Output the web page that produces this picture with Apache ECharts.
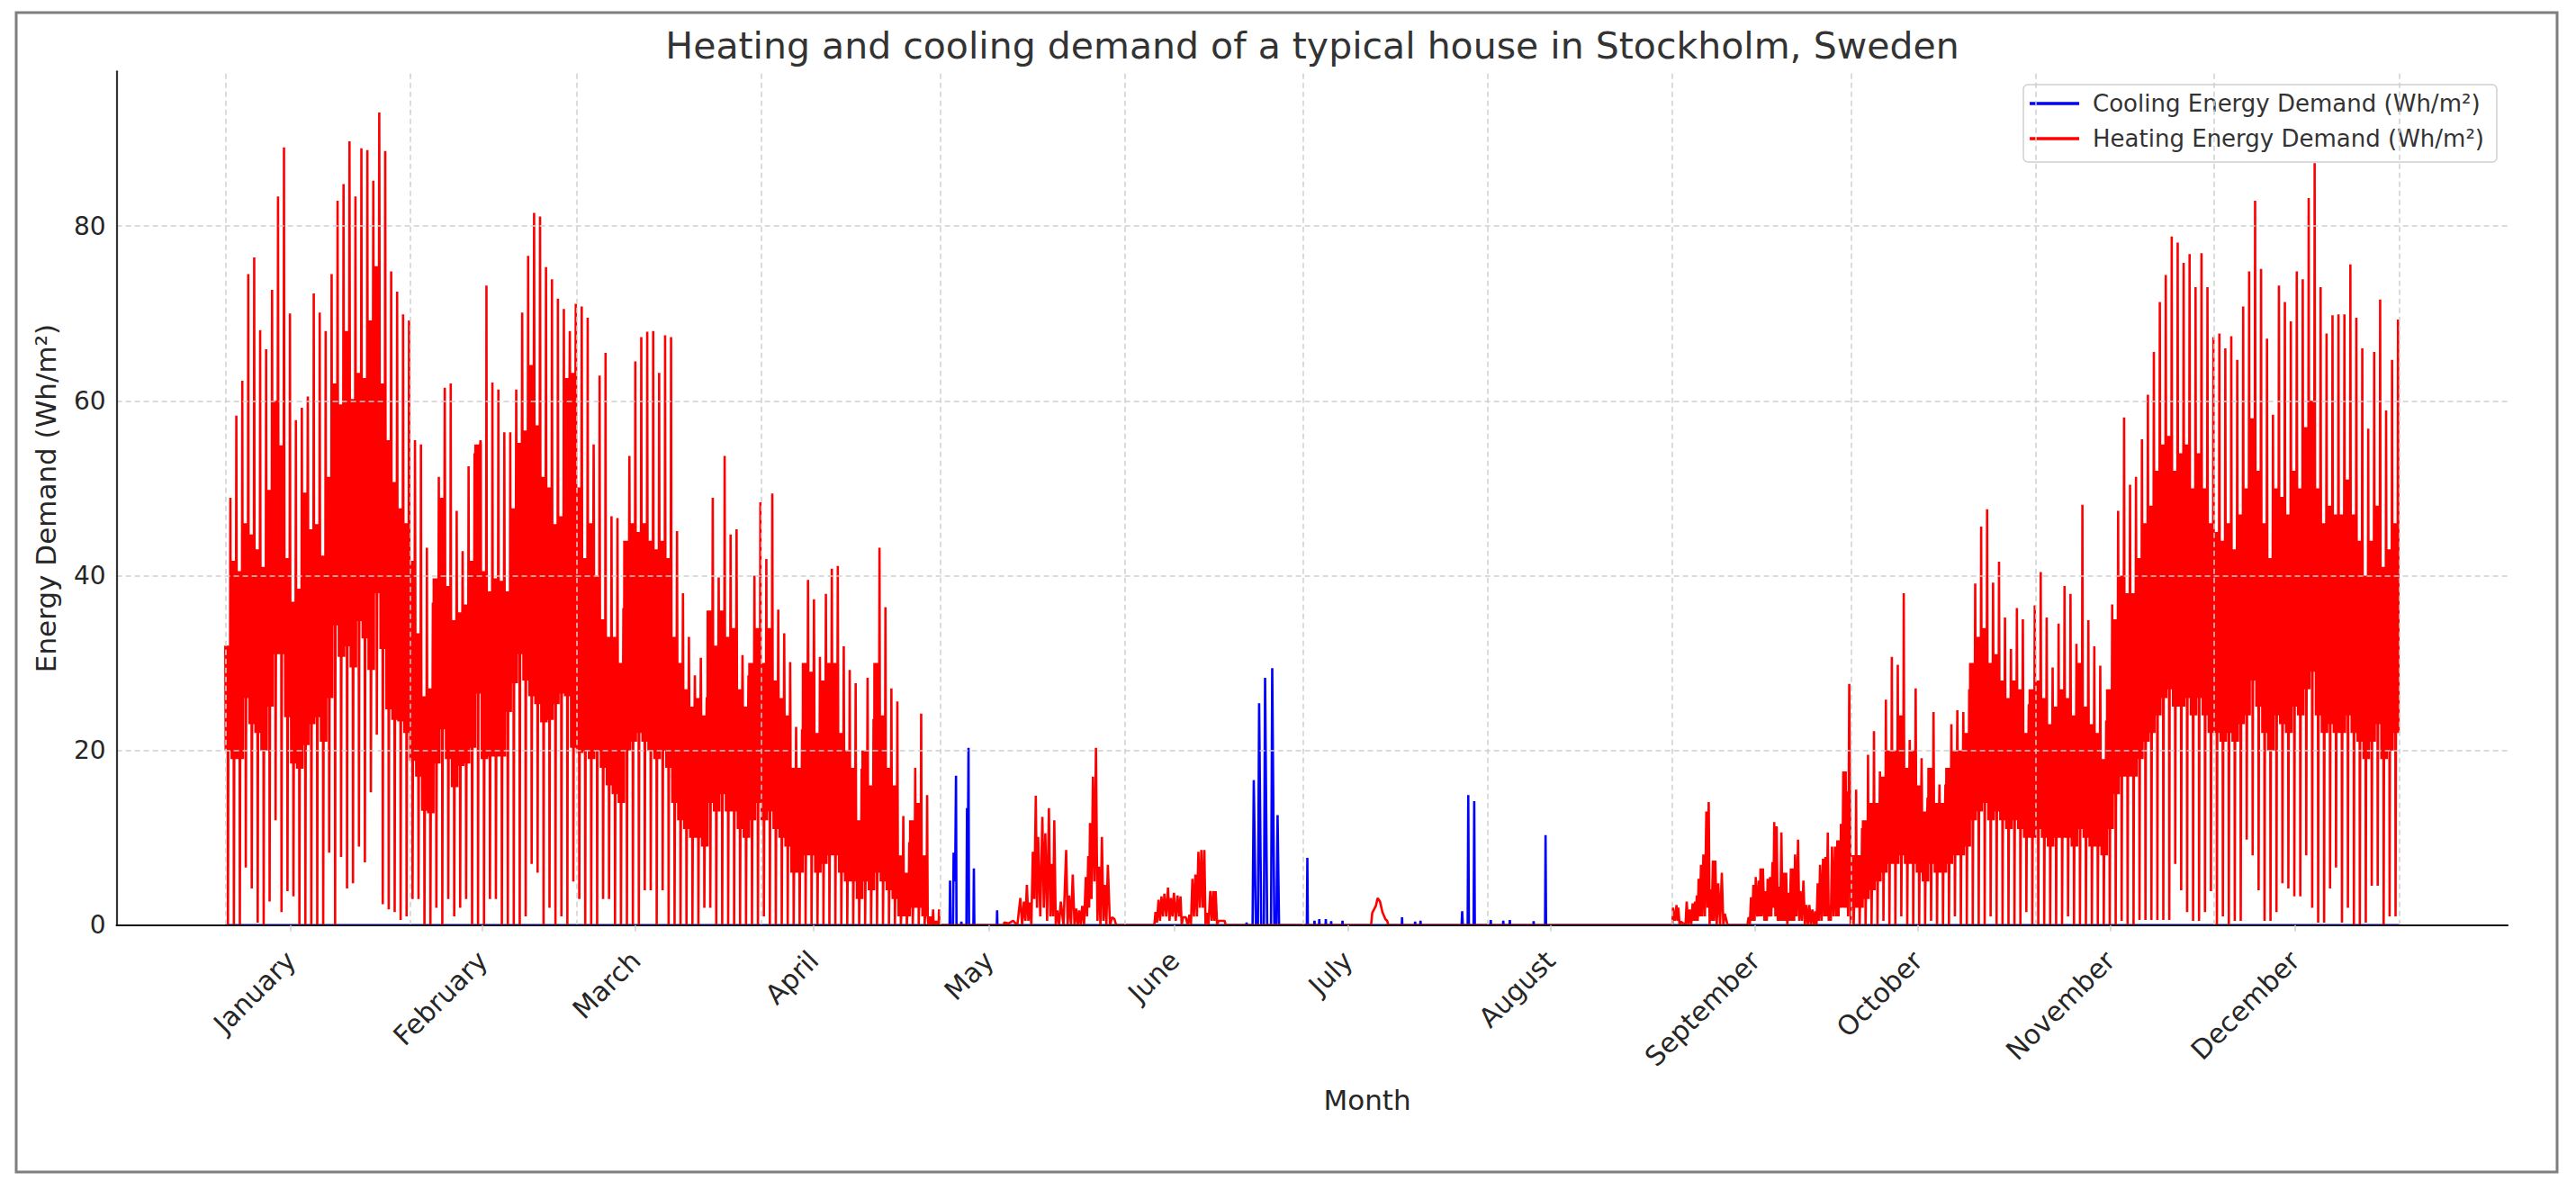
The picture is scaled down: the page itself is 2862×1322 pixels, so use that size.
<!DOCTYPE html>
<html><head><meta charset="utf-8">
<script src="https://cdn.jsdelivr.net/npm/echarts@6/dist/echarts.min.js"></script>
<style>html,body{margin:0;padding:0;background:#fff}#c{width:2862px;height:1322px}</style>
</head><body><div id="c"></div>
<script>
// ---------- labels / ticks ----------
const months = ['January','February','March','April','May','June','July','August','September','October','November','December'];
const monthTickDays = [11.0, 43.2, 68.9, 98.8, 128.2, 159.4, 188.5, 222.5, 256.9, 284.2, 316.5, 347.5];
const monthStartDays = [0, 31, 59, 90, 120, 151, 181, 212, 243, 273, 304, 334, 365];
const yTicks = [0, 20, 40, 60, 80];

// ---------- heating, Jan 1 .. Apr 30 (day 0..119) ----------
// daily spike top
const heatPeakSpring = [
 48.9,58.3,62.3,74.5,76.4,68.1,65.9,72.7,83.4,89.0,70.0,57.8,59.2,60.5,72.3,70.1,68.0,74.5,82.9,84.8,89.7,83.4,88.9,88.7,85.2,93.0,88.6,74.8,72.5,69.9,69.2,55.5,
 55.0,43.2,36.9,51.3,61.5,62.0,47.4,42.8,52.5,54.0,55.5,73.2,62.1,61.3,56.4,56.4,61.3,70.1,76.6,81.5,81.1,75.3,73.9,71.7,70.5,68.0,71.1,70.8,69.5,55.0,62.9,
 65.5,46.8,46.6,36.3,53.7,64.5,67.3,67.9,68.0,63.2,67.5,67.3,45.1,38.0,33.0,28.6,30.6,26.1,48.9,39.8,53.7,44.7,45.3,30.9,28.6,40.0,48.4,41.9,49.4,36.1,33.4,30.1,
 22.7,22.4,39.5,37.3,30.7,37.9,40.8,41.1,31.9,29.2,27.7,17.9,28.3,23.6,43.2,36.4,27.1,25.6,12.5,9.5,18.0,24.2,14.9,1.8,1.8
];
// daily top of the dense band
const heatTopSpring = [
 32,41.7,40.5,46,44.7,43,41,49.8,60,54.9,42,37,38.5,49.5,45.3,45.9,42.3,51.3,62,59.6,68,60.2,63.2,62.6,69.2,75.4,62,55.5,50.7,47.7,46,
 41.7,33.4,26.2,27.1,39.7,48.9,38.8,34.9,35.8,36.7,41.7,55,40.5,38.2,39.7,39.4,38.2,47.7,55.2,56.6,64.1,57.2,51.3,50.1,45.9,46.8,62.6,63.2,50.1,42,46,
 40,35,33,33,30,44,46,45,46,44,43,44,42,33,30,27,25,26,24,36,32,36,33,34,27,25,30,34,30,34,28,26,24,
 18,18,30,29,22,28,30,30,22,20,18,12,20,16,30,24,18,16,8,6,12,14,8,1,0.5
];
// daily bottom of the dense band
const heatBotSpring = [
 20,19,19,26,23,22,20,25,31,31,23.8,18.5,17.9,20.6,23,23.8,21,26,34.3,30.7,31.9,29.5,34.8,32.8,29.2,38,31.6,24.7,23.5,23.3,22,
 18.8,17,13.1,12.8,18.5,22.4,19,15.8,18.2,18.5,20.3,26.5,19,19.3,19.3,19.3,24.4,27.7,31,28,26.2,25.3,23.2,23.5,25.3,26.5,26.2,20.3,19.7,20,19,
 20,18,16,15,14,20,21,22,21,20,19,20,18,14,12,11,10,10,9,14,13,15,13,13,11,10,12,14,12,13,11,10,9,
 6,6,8,8,6,7,8,8,6,5,5,3,5,4,6,5,4,3,1,1,2,2,1,0,0
];
// daily trough
const heatMinSpring = [
 0,0,0,6.6,4.2,0.3,0,2.7,12,1.5,3.9,3.3,0,0,0,0,0,8.3,0,7.8,4.2,4.8,9,7.2,15.2,21.8,2.4,1.8,1.5,0.6,1,3,
 3,0,0,2,0,3,1,2,3,0,0,0,3,3,0,0,0,0,1,7,6,0,2,0,1,0,5,3,0,0,0,
 3,3,0,0,0,0,0,4,4,0,4,0,0,0,0,0,0,2,2,0,0,0,0,0,0,0,0,1,0,0,0,0,
 0,0,0,0,0,0,0,0,0,0,0,0,0,0,0,0,0,0,0,0,0,0,0,0,0
];
// ---------- heating, Oct 1 .. Dec 31 (day 273..364) ----------
const heatPeakAutumn = [
 15.5,11.1,19.5,22.2,17.6,25.8,30.7,29.8,38.0,21.2,27.1,19.1,14.6,24.4,16.1,16.1,23.0,24.6,24.4,27.0,
 39.1,45.6,47.6,39.2,41.6,35.2,31.6,36.3,35.0,25.3,36.6,40.4,35.2,29.5,34.5,38.8,37.9,32.2,48.1,34.9,
 31.9,29.7,23.4,36.7,47.4,58.1,50.4,51.3,
 55.6,60.7,65.6,71.3,74.4,78.8,78.1,75.8,76.8,73.0,76.9,73.0,67.3,67.7,66.0,67.4,64.7,70.8,74.8,82.9,
 75.1,67.1,58.4,73.2,71.3,69.1,74.8,73.9,83.2,87.2,73.0,67.7,69.8,69.9,69.9,75.6,69.5,66.0,56.8,65.6,
 71.6,58.9,64.7,69.3
];
const heatTopAutumn = [
 8,8,12,14,14,17,20,20,24,18,20,16,13,18,14,14,18,20,20,22,
 30,33,34,30,31,28,26,28,27,22,
 27,28,26,23,25,27,26,24,30,25,23,22,19,27,
 35,40,38,38,42,46,
 48,52,55,56,52,54,55,50,54,50,46,45,44,46,43,47,50,58,52,46,42,50,49,47,52,50,57,60,50,46,48,47,47,51,47,44,40,44,48,41,43,46
];
const heatBotAutumn = [
 2,2,3,4,5,6,7,7,8,7,7,6,5,7,6,6,7,8,8,9,
 12,13,14,12,13,12,11,12,11,10,
 10,11,10,9,10,10,10,9,11,10,9,9,8,11,
 15,17,17,17,19,21,
 22,24,26,27,25,25,26,24,26,24,22,22,21,22,21,23,24,28,25,22,20,24,23,22,25,24,27,29,24,22,23,22,22,24,22,21,19,21,23,19,20,22
];
const heatMinAutumn = [
 0,0,0,0,0,0.5,0,0,1,0,0,0,0,0.5,0,0,0,1,0,0,0,0,0,1,0,0,0,0,0,1.5,0,0,0,0,0,0,1,0,0,0,0,0,0,0,0,0.5,0,0,
 0.6,0.6,0.6,0.6,0.6,0.6,7,4,1.5,0.5,0.5,1.5,3.9,0,1,0,0.5,0.5,9.8,8,4,0.5,0.5,1.5,4.8,4.2,3.3,3.3,8,2,
 0.3,0.3,4.2,6.6,0.3,2,0,0,0.3,4.5,4.5,0,1,1
];
// ---------- heating, May .. September: individual readings [day, Wh/m²] ----------
const heatSummer = [
 [120.0,0],[130.7,0],[130.8,0.3],[131.5,0.2],[132.3,0.5],[133.0,0],
 [133.5,3.1],[133.8,0],[134.1,2.7],[134.35,0.5],[134.6,4.6],[134.85,0.5],[135.1,2.6],[135.35,0],[135.6,8.4],[135.85,3],
 [136.1,14.8],[136.3,2],[136.5,10.1],[136.85,1],[137.2,12.4],[137.45,2],[137.7,10.5],[138.0,0.5],[138.3,13.4],[138.55,1],
 [138.8,7.0],[139.0,1],[139.2,12.0],[139.45,0],[139.7,1.7],[140.0,0],[140.3,2.7],[140.75,0],[141.2,8.6],[141.45,0],
 [141.7,3.4],[142.0,0],[142.3,5.8],[142.6,0],[142.9,1.9],[143.15,0],[143.4,1.7],[143.65,0],[143.9,2.2],[144.2,0],
 [144.5,5.5],[144.7,1],[144.9,7.9],[145.05,2],[145.2,11.7],[145.45,3],[145.7,17.0],[145.95,5],[146.2,20.3],[146.45,0.5],
 [146.7,6.7],[146.95,0],[147.2,10.1],[147.45,0.5],[147.7,4.6],[147.95,0],[148.2,6.9],[148.55,0],[148.9,0.9],[149.3,0.7],[149.6,0],
 [156.0,0],[156.2,1.5],[156.45,0.3],[156.7,2.9],[156.95,0.5],[157.2,3.3],[157.45,1],[157.7,3.6],[158.0,1],[158.3,4.3],
 [158.55,0.5],[158.8,3.1],[159.05,1],[159.3,3.7],[159.6,0.5],[159.9,3.4],[160.15,1],[160.4,3.3],[160.6,0],[160.8,0.9],
 [161.3,0.9],[161.6,0],[161.9,1.2],[162.15,0],[162.4,5.3],[162.65,1],[162.9,5.8],[163.15,1],[163.4,8.4],[163.65,2],
 [163.9,8.6],[164.15,2],[164.4,8.6],[164.6,0],[164.8,1.4],[165.1,0],[165.4,3.9],[165.65,0.5],[165.9,3.9],[166.1,0.5],
 [166.3,3.9],[166.55,0],[166.8,0.5],[167.8,0.5],[168.0,0],
 [192.4,0],[192.6,1.4],[193.2,2.2],[193.5,3.1],[193.9,2.7],[194.3,1.5],[194.8,0.7],[195.1,0.5],[195.3,0],
 [243.0,0],[243.1,2.0],[243.4,0.5],[243.7,2.3],[243.85,0.5],[244.0,2.0],[244.2,0],[244.4,0.4],[245.2,0],[245.4,2.7],
 [245.65,0],[245.9,1.8],[246.15,0],[246.4,2.5],[246.6,0.5],[246.8,2.7],[246.95,0.5],[247.1,3.4],[247.25,0.5],[247.4,5.3],
 [247.6,1],[247.8,6.9],[248.0,1],[248.2,8.1],[248.45,1],[248.7,13.0],[248.9,2],[249.1,14.1],[249.25,0],[249.4,4.1],
 [249.6,0.5],[249.8,7.4],[250.0,0.5],[250.2,7.4],[250.45,0],[250.7,4.8],[251.0,0],[251.3,6.0],[251.55,0],[251.8,1.3],
 [252.2,0.2],[252.4,0],
 [255.6,0],[255.8,0.9],[256.0,0],[256.2,3.2],[256.4,0.5],[256.6,4.6],[256.8,0.5],[257.0,5.5],[257.25,1],[257.5,5.1],
 [257.65,1],[257.8,6.5],[258.0,1],[258.2,6.5],[258.45,0.5],[258.7,3.9],[258.85,0.5],[259.0,5.3],[259.2,1],[259.4,5.5],
 [259.6,1],[259.8,7.2],[259.95,2],[260.1,11.8],[260.3,1],[260.5,11.3],[260.7,0.5],[260.9,4.4],[261.1,0.5],[261.3,10.6],
 [261.5,0.5],[261.7,6.0],[261.9,0.5],[262.1,6.0],[262.3,0],[262.5,3.7],[262.7,0.5],[262.9,6.5],[263.1,0.5],[263.3,6.5],
 [263.45,0.5],[263.6,8.1],[263.85,1],[264.1,9.8],[264.3,0.5],[264.5,3.9],[264.75,0.5],[265.0,5.1],[265.25,0],[265.5,2.3],
 [265.75,0],[266.0,2.3],[266.25,0],[266.5,1.8],[266.75,0],[267.0,1.6],[267.2,0],[267.4,4.8],[267.6,0.5],[267.8,6.9],
 [268.05,0.5],[268.3,7.6],[268.5,1],[268.7,7.8],[268.9,1],[269.1,10.6],[269.25,0.5],[269.4,2.3],[269.6,0.5],[269.8,9.0],
 [270.05,1],[270.3,9.0],[270.5,1],[270.7,9.7],[270.9,1],[271.1,9.7],[271.2,2],[271.3,11.6],[271.5,2],[271.7,17.6],
 [271.9,2],[272.1,17.6],[272.2,2],[272.3,15.3],[272.5,1],[272.7,27.6],[272.95,0]
];
// ---------- cooling readings [day, Wh/m²] ----------
const coolPoints = [
 [0,0],[121.62,0],[121.7,5.1],[121.78,0],
 [122.2,0],[122.3,8.3],[122.55,5],[122.7,17.1],[122.78,0],
 [123.55,0],[123.6,0.4],[123.65,0],
 [124.45,0],[124.55,13.4],[124.7,10],[124.8,20.3],[124.88,0],
 [125.62,0],[125.7,6.5],[125.78,0],
 [129.55,0],[129.6,1.7],[129.65,0],
 [171.45,0],[171.5,0.3],[171.55,0],
 [172.5,0],[172.7,16.6],[173.05,0],[173.4,0],[173.6,25.4],[173.95,0],[174.4,0],[174.6,28.3],[174.95,0],
 [175.6,0],[175.8,29.4],[176.15,0],[176.5,0],[176.7,12.6],[176.95,0],
 [181.62,0],[181.7,7.7],[181.78,0],
 [182.85,0],[182.9,0.5],[182.95,0],[183.65,0],[183.7,0.7],[183.75,0],[184.75,0],[184.8,0.7],[184.85,0],
 [185.65,0],[185.7,0.45],[185.75,0],[187.55,0],[187.6,0.5],[187.65,0],
 [197.55,0],[197.6,0.9],[197.65,0],[199.75,0],[199.8,0.4],[199.85,0],[200.65,0],[200.7,0.5],[200.75,0],
 [207.6,0],[207.7,1.6],[207.8,0],[208.62,0],[208.72,14.9],[208.82,0],[209.62,0],[209.72,14.2],[209.82,0],
 [212.45,0],[212.5,0.6],[212.55,0],[214.55,0],[214.6,0.5],[214.65,0],[215.65,0],[215.7,0.6],[215.75,0],
 [219.65,0],[219.7,0.45],[219.75,0],
 [221.62,0],[221.7,10.3],[221.78,0],[365,0]
];

// ---------- build the heating line from the read values ----------
// within each day: dense band (top T / bottom B), one trough (M) and one spike (P)
const DAY_SHAPE = [[0,'T'],[1.5,'B'],[3,'T'],[4.5,'B'],[6,'T'],[7.5,'B'],[9,'T'],[10.5,'M'],[12,'B'],
  [13.5,'T'],[15,'B'],[16.5,'T'],[18,'B'],[19.3,'T'],[20.4,'P'],[21.5,'T'],[22.8,'B']];
function dayPoints(d, peak, top, bot, minv) {
  const T = Math.min(top, peak);
  const B = Math.min(bot, T);
  const M = Math.min(minv, B);
  const v = {T: T, B: B, P: peak, M: M};
  return DAY_SHAPE.map(function (s) { return [d + s[0] / 24, v[s[1]]]; });
}
const heatData = [];
heatPeakSpring.forEach(function (p, i) {
  heatData.push.apply(heatData, dayPoints(i, p, heatTopSpring[i], heatBotSpring[i], heatMinSpring[i]));
});
heatSummer.forEach(function (p) { heatData.push(p); });
heatPeakAutumn.forEach(function (p, i) {
  heatData.push.apply(heatData, dayPoints(273 + i, p, heatTopAutumn[i], heatBotAutumn[i], heatMinAutumn[i]));
});

const FONT = 'DejaVu Sans';
const gridLines = monthStartDays.map(function (d) { return {xAxis: d}; })
  .concat(yTicks.filter(function (v) { return v > 0; }).map(function (v) { return {yAxis: v}; }));

const chart = echarts.init(document.getElementById('c'), null, {renderer: 'svg', width: 2862, height: 1322});
chart.setOption({
  animation: false,
  backgroundColor: '#ffffff',
  grid: {left: 129.6, right: 76, top: 79.3, bottom: 294.2, containLabel: false},
  xAxis: {
    type: 'value', min: -18.25, max: 383.25, z: 5,
    axisLine: {show: true, onZero: false, lineStyle: {color: '#111111', width: 2.2}},
    axisTick: {show: true, customValues: monthTickDays, length: 7, lineStyle: {color: '#cfcfcf', width: 1.5}},
    axisLabel: {
      customValues: monthTickDays, rotate: 45, margin: 34,
      fontSize: 30, fontFamily: FONT, color: '#262626',
      formatter: function (val) {
        for (let i = 0; i < monthTickDays.length; i++) if (Math.abs(monthTickDays[i] - val) < 1e-6) return months[i];
        return '';
      }
    },
    splitLine: {show: false}
  },
  yAxis: {
    type: 'value', min: 0, max: 97.7, interval: 20, z: 5,
    axisLine: {show: true, onZero: false, lineStyle: {color: '#333333', width: 2.2}},
    axisTick: {show: false},
    axisLabel: {fontSize: 28, fontFamily: FONT, color: '#262626', margin: 12,
      formatter: function (v) { return yTicks.indexOf(v) >= 0 ? String(v) : ''; }},
    splitLine: {show: false}
  },
  legend: {
    orient: 'vertical', right: 88, top: 94,
    data: ['Cooling Energy Demand (Wh/m²)', 'Heating Energy Demand (Wh/m²)'],
    icon: 'rect', itemWidth: 55, itemHeight: 3.5, itemGap: 11,
    padding: [7, 14, 12, 7],
    backgroundColor: '#ffffff', borderColor: '#d0d0d0', borderWidth: 1.5, borderRadius: 5,
    textStyle: {fontSize: 26, fontFamily: FONT, color: '#333333', lineHeight: 28, padding: [0, 0, 0, 10]}
  },
  graphic: [
    {type: 'rect', shape: {x: 18, y: 14, width: 2823, height: 1288}, style: {fill: 'none', stroke: '#7f7f7f', lineWidth: 3}, z: 100, silent: true},
    {type: 'text', x: 1458, y: 50.6, style: {text: 'Heating and cooling demand of a typical house in Stockholm, Sweden', fontSize: 41, fontFamily: FONT, fill: '#333333', align: 'center', verticalAlign: 'middle'}},
    {type: 'text', x: 51, y: 553.5, rotation: Math.PI / 2, style: {text: 'Energy Demand (Wh/m²)', fontSize: 31, fontFamily: FONT, fill: '#262626', align: 'center', verticalAlign: 'middle'}},
    {type: 'text', x: 1519, y: 1222, style: {text: 'Month', fontSize: 31, fontFamily: FONT, fill: '#262626', align: 'center', verticalAlign: 'middle'}}
  ],
  series: [
    {
      name: 'grid', type: 'line', data: [], z: 1, silent: true,
      markLine: {silent: true, symbol: ['none', 'none'], label: {show: false}, animation: false,
        lineStyle: {color: '#cfcfcf', width: 1.5, type: [6, 4]}, data: gridLines}
    },
    {
      name: 'Cooling Energy Demand (Wh/m²)', type: 'line', data: coolPoints, z: 2,
      symbol: 'none', showSymbol: false,
      lineStyle: {color: '#0000ff', width: 2.6}, itemStyle: {color: '#0000ff'}
    },
    {
      name: 'Heating Energy Demand (Wh/m²)', type: 'line', data: heatData, z: 3,
      symbol: 'none', showSymbol: false,
      lineStyle: {color: '#ff0000', width: 2.6}, itemStyle: {color: '#ff0000'}
    }
  ]
});
</script></body></html>
